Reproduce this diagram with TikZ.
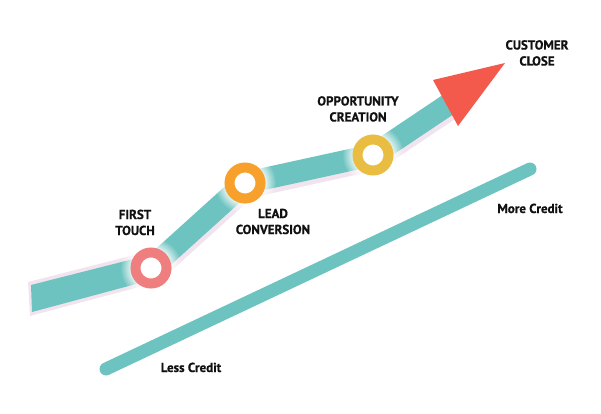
\documentclass[tikz,border=0pt]{standalone}
\usepackage{fontspec}
\setmainfont{PT Sans}[BoldFeatures={FakeBold=0.8}]
\usetikzlibrary{fadings}
\definecolor{teal}{HTML}{6CC3C0}
\definecolor{shadowpink}{HTML}{F2E4EE}
\definecolor{ringpink}{HTML}{EF7F7F}
\definecolor{ringorange}{HTML}{F7A12C}
\definecolor{ringyellow}{HTML}{E8BD42}
\definecolor{arrowred}{HTML}{F35A4B}
\definecolor{ink}{HTML}{111111}
\pgfdeclareradialshading{glowshade}{\pgfpointorigin}{color(0bp)=(white); color(14bp)=(white); color(25bp)=(black); color(50bp)=(black)}
\pgfdeclarefading{glowfade}{\pgfuseshading{glowshade}}
\begin{document}
\begin{tikzpicture}[x=1pt,y=-1pt,
  band/.style={draw=teal,line width=22pt},
  bandshadow/.style={draw=shadowpink,line width=25pt},
  ring/.style={line width=10pt},
  glow/.style={fill=white,path fading=glowfade,fit fading=true},
  lbl/.style={font=\bfseries\fontsize{13}{16}\selectfont,text=ink,align=center,anchor=base,inner sep=0pt},
  credit/.style={font=\bfseries\fontsize{13}{15}\selectfont,text=ink,anchor=base,inner sep=0pt}]
\useasboundingbox (0,0) rectangle (601,414);
% lower credit line
\coordinate (lo) at (106,369);
\coordinate (hi) at (530,169);
\draw[teal,line width=13pt,line cap=round] (lo) -- (hi);
% milestones
\coordinate (A) at (151,268);
\coordinate (B) at (245,183);
\coordinate (C) at (373,155);
\coordinate (D) at (455,100);
% shadows
\fill[shadowpink] (28,282) -- (146,252) -- (154,283) -- (30,316) -- cycle;
\draw[bandshadow] ([shift={(1.5,3)}]A) -- ([shift={(1.5,3)}]B) -- ([shift={(1.5,3)}]C) -- ([shift={(1.5,3)}]D);
% bands
\fill[teal] (31,285) -- (145,256) -- (151,280) -- (32,312) -- cycle;
\draw[band] (A) -- (B);
\draw[band] (B) -- (C);
\draw[band] (C) -- (D);
% glows
\foreach \p in {A,B,C}{
  \path[glow] (\p) circle[radius=31];
}
% arrow head
\fill[arrowred] (433,80) -- (505,63) -- (458,126) -- cycle;
% rings
\foreach \p/\c in {A/ringpink,B/ringorange,C/ringyellow}{
  \fill[white] (\p) circle[radius=11];
  \draw[ring,\c] (\p) circle[radius=15.5];
}
% labels
\node[lbl] (tA) at (135,235) {FIRST\\TOUCH};
\node[lbl] (tB) at (273,234) {LEAD\\CONVERSION};
\node[lbl] (tC) at (358,121.5) {OPPORTUNITY\\CREATION};
\node[lbl] (tD) at (537,65.5) {CUSTOMER\\CLOSE};
\node[credit] (more) at (530,213) {More Credit};
\node[credit] (less) at (191,372) {Less Credit};
\end{tikzpicture}
\end{document}
